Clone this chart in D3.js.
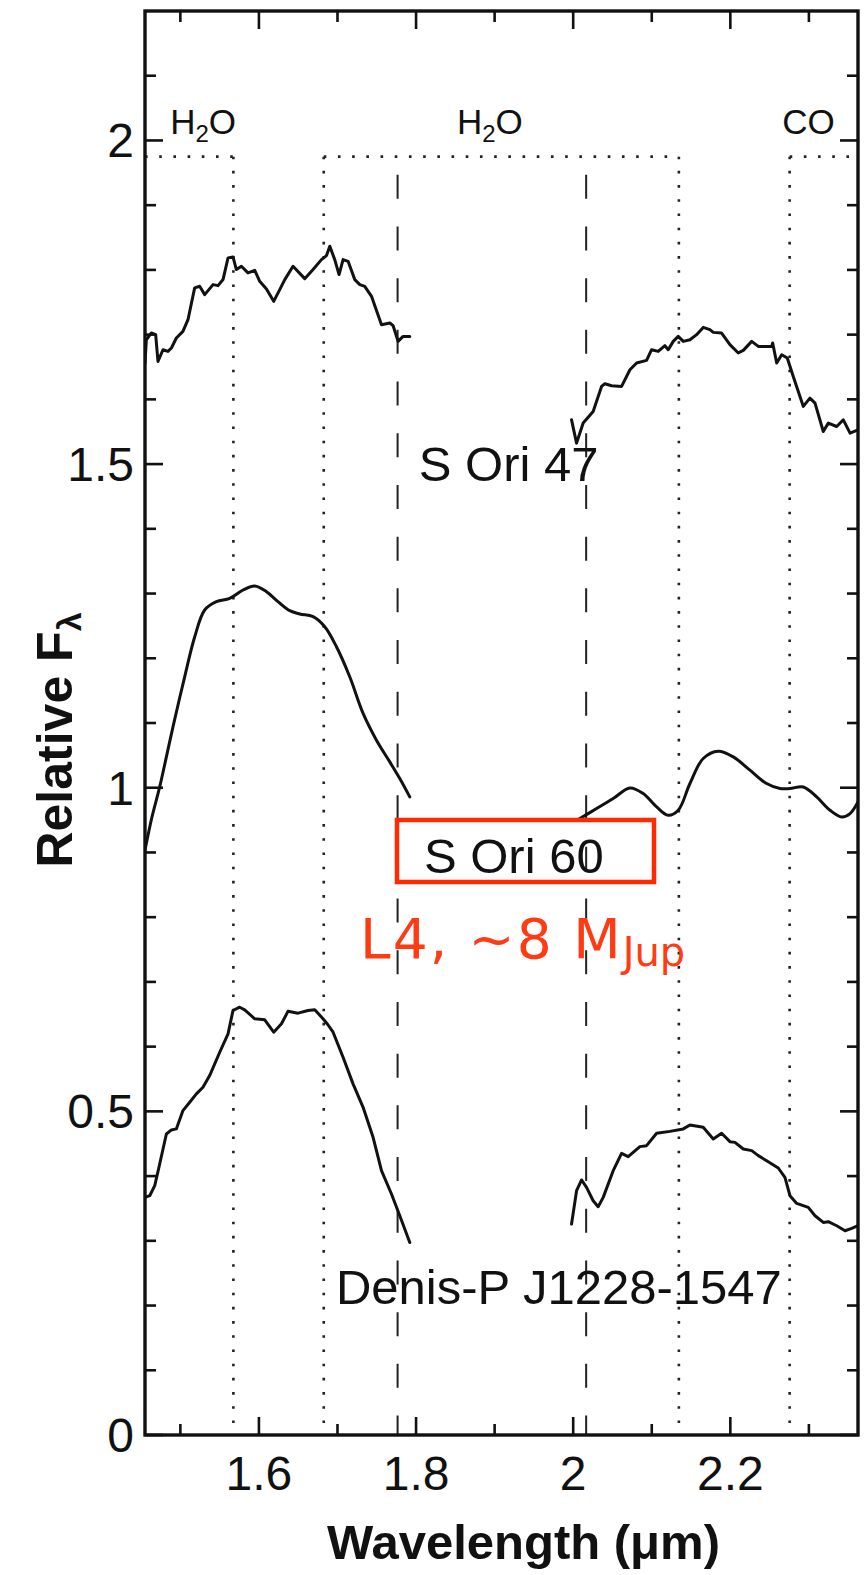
<!DOCTYPE html>
<html>
<head>
<meta charset="utf-8">
<script src="https://cdn.jsdelivr.net/npm/d3@7"></script>
<style>
  html, body { margin: 0; padding: 0; background: #fff; }
  svg { display: block; }
</style>
</head>
<body>
<svg id="chart" width="867" height="1575"></svg>
<script>
// ---- Spectra: [wavelength (µm), relative flux] ----
const sOri47H = [[1.455,1.656],[1.4567,1.692],[1.4631,1.7026],[1.4686,1.700],[1.4715,1.6586],[1.4779,1.6767],[1.4842,1.6741],[1.4886,1.6793],[1.4949,1.6948],[1.5033,1.705],[1.5097,1.7231],[1.5182,1.7722],[1.5246,1.7747],[1.531,1.7618],[1.5416,1.7773],[1.548,1.7757],[1.5543,1.7851],[1.5607,1.8186],[1.567,1.8201],[1.5713,1.8005],[1.5777,1.8056],[1.5861,1.7954],[1.5947,1.7994],[1.601,1.7824],[1.6096,1.7706],[1.6188,1.7514],[1.6265,1.7695],[1.6329,1.785],[1.6434,1.8056],[1.6583,1.7865],[1.6689,1.8005],[1.6796,1.8159],[1.686,1.8221],[1.6902,1.8365],[1.6965,1.8159],[1.702,1.7928],[1.7071,1.8159],[1.7135,1.8133],[1.722,1.785],[1.7284,1.7772],[1.7347,1.7746],[1.7433,1.7592],[1.756,1.7154],[1.7666,1.718],[1.7708,1.7138],[1.7751,1.6973],[1.7771,1.6896],[1.7835,1.6973],[1.792,1.6973]];
const sOri47K = [[1.9979,1.5684],[2.0043,1.5324],[2.0127,1.5634],[2.0254,1.5813],[2.0361,1.62],[2.0403,1.6241],[2.0489,1.621],[2.0616,1.62],[2.0722,1.6458],[2.0807,1.6562],[2.0934,1.6602],[2.0998,1.6767],[2.1082,1.6741],[2.1167,1.6829],[2.121,1.6767],[2.1273,1.6896],[2.1337,1.6973],[2.1401,1.6896],[2.1486,1.6922],[2.1571,1.70],[2.1655,1.7112],[2.174,1.7077],[2.1783,1.7035],[2.1889,1.7025],[2.1995,1.6845],[2.2101,1.6717],[2.2165,1.6757],[2.2272,1.6896],[2.2356,1.6818],[2.2526,1.6818],[2.2539,1.6871],[2.259,1.6562],[2.2654,1.669],[2.2725,1.6639],[2.2801,1.6354],[2.2929,1.5891],[2.3013,1.602],[2.3078,1.5943],[2.3183,1.5504],[2.3247,1.5633],[2.3354,1.5581],[2.3438,1.5684],[2.3524,1.5478],[2.3625,1.553]];
const sOri60H = [[1.455,0.9033],[1.4635,0.9528],[1.4737,1.0012],[1.4822,1.0476],[1.4906,1.094],[1.5055,1.1714],[1.5183,1.2333],[1.531,1.2746],[1.5459,1.2874],[1.5628,1.2926],[1.5798,1.3055],[1.5947,1.3117],[1.6096,1.3029],[1.6243,1.2874],[1.6392,1.2735],[1.652,1.2684],[1.6689,1.2642],[1.6838,1.2487],[1.6987,1.2178],[1.7156,1.1714],[1.7326,1.1148],[1.7496,1.0735],[1.7666,1.0399],[1.7793,1.0142],[1.792,0.9858]];
const sOri60K = [[2.0063,0.9508],[2.0298,0.9678],[2.0509,0.9833],[2.0722,0.9997],[2.0891,0.991],[2.1062,0.9703],[2.1209,0.9575],[2.1337,0.9652],[2.1486,1.0065],[2.1655,1.0452],[2.1846,1.0565],[2.2037,1.0476],[2.225,1.0271],[2.2462,1.0065],[2.2632,0.9988],[2.2759,0.9988],[2.2929,1.0012],[2.3099,0.9858],[2.3269,0.9652],[2.3418,0.9548],[2.3524,0.9601],[2.3625,0.978]];
const denisH = [[1.455,0.3671],[1.461,0.3697],[1.4674,0.3852],[1.4737,0.4187],[1.4822,0.4651],[1.4886,0.4713],[1.4949,0.4729],[1.5033,0.5012],[1.5119,0.514],[1.5204,0.527],[1.5288,0.5372],[1.5373,0.5553],[1.5501,0.5913],[1.5607,0.6198],[1.567,0.6558],[1.5755,0.6609],[1.5819,0.6569],[1.5947,0.643],[1.6074,0.6415],[1.6188,0.6223],[1.6287,0.6353],[1.6371,0.6548],[1.6498,0.6517],[1.6625,0.6558],[1.6711,0.6569],[1.6816,0.643],[1.6876,0.6342],[1.6944,0.6223],[1.7071,0.5836],[1.7198,0.5425],[1.7326,0.5063],[1.7453,0.4599],[1.756,0.4084],[1.7687,0.3723],[1.7793,0.3387],[1.792,0.2974]];
const denisK = [[1.9979,0.3259],[2.0043,0.3774],[2.0107,0.394],[2.017,0.3825],[2.0254,0.3619],[2.0318,0.3527],[2.0382,0.3671],[2.0509,0.4084],[2.0616,0.4351],[2.07,0.43],[2.0849,0.4455],[2.0934,0.447],[2.1062,0.4661],[2.1231,0.4691],[2.1401,0.4729],[2.1486,0.479],[2.1655,0.4753],[2.1783,0.4574],[2.1889,0.4661],[2.1995,0.4532],[2.2059,0.4521],[2.2165,0.4419],[2.2272,0.4393],[2.2356,0.4316],[2.2462,0.4238],[2.261,0.4125],[2.2695,0.398],[2.2759,0.3697],[2.2845,0.3578],[2.2992,0.3516],[2.3078,0.3387],[2.3183,0.3284],[2.3247,0.3295],[2.3354,0.3233],[2.346,0.3156],[2.3545,0.3192],[2.3625,0.3233]];

// ---- Axis settings ----
const xDomain = [1.455, 2.3625];
const yDomain = [0, 2.2];
const xMajorTicks = [1.6, 1.8, 2.0, 2.2];
const xMinorTicks = [1.5, 1.7, 1.9, 2.1, 2.3];
const yMajorTicks = [0, 0.5, 1, 1.5, 2];
const yMinorTicks = [0.1,0.2,0.3,0.4,0.6,0.7,0.8,0.9,1.1,1.2,1.3,1.4,1.6,1.7,1.8,1.9,2.1];

// ---- Absorption band markers ----
const bandLevel = 1.975;
const bandSegments = [[1.455, 1.5675], [1.6825, 2.1345], [2.2755, 2.3625]];
const bandEdges = [1.5675, 1.6825, 2.1345, 2.2755];
const bandNames = [
  { x: 1.487, main: "H", sub: "2", tail: "O" },
  { x: 1.852, main: "H", sub: "2", tail: "O" },
  { x: 2.266, main: "CO", sub: "", tail: "" }
];
const gapEdges = [1.7765, 2.0165];
const gapTop = 1.947;

// ---- Object labels ----
const objectLabels = [
  { name: "S Ori 47", x: 1.8035, y: 1.474 },
  { name: "S Ori 60", x: 1.81, y: 0.868 },
  { name: "Denis-P J1228-1547", x: 1.698, y: 0.203 }
];

const plotLeft = 145, plotRight = 858, plotTop = 11, plotBottom = 1435;

const svg = d3.select("#chart");
const x = d3.scaleLinear().domain(xDomain).range([plotLeft, plotRight]);
const y = d3.scaleLinear().domain(yDomain).range([plotBottom, plotTop]);

svg.append("defs").append("clipPath").attr("id", "plotClip")
  .append("rect").attr("x", plotLeft).attr("y", plotTop)
  .attr("width", plotRight - plotLeft).attr("height", plotBottom - plotTop);

const font = "'Liberation Sans', Arial, Helvetica, sans-serif";

// band markers (dotted)
const bands = svg.append("g").attr("clip-path", "url(#plotClip)")
  .attr("stroke", "#222").attr("stroke-width", 2.6)
  .attr("stroke-dasharray", "2.6 11.6").attr("fill", "none");
bands.selectAll("line.h").data(bandSegments).join("line")
  .attr("class", "h")
  .attr("x1", d => x(d[0])).attr("x2", d => x(d[1]))
  .attr("y1", y(bandLevel)).attr("y2", y(bandLevel));
bands.selectAll("line.v").data(bandEdges).join("line")
  .attr("class", "v")
  .attr("x1", d => x(d)).attr("x2", d => x(d))
  .attr("y1", y(bandLevel)).attr("y2", y(0));

// gap edges (dashed)
svg.append("g").attr("clip-path", "url(#plotClip)")
  .selectAll("line").data(gapEdges).join("line")
  .attr("x1", d => x(d)).attr("x2", d => x(d))
  .attr("y1", y(gapTop)).attr("y2", y(0))
  .attr("stroke", "#222").attr("stroke-width", 2)
  .attr("stroke-dasharray", "24 27.7");

// band names
const bandText = svg.append("g").attr("font-family", font).attr("fill", "#111");
bandNames.forEach(b => {
  const t = bandText.append("text")
    .attr("x", x(b.x)).attr("y", 134)
    .attr("font-size", 35);
  t.append("tspan").text(b.main);
  if (b.sub) {
    t.append("tspan").attr("font-size", 24).attr("dy", 8).text(b.sub);
    t.append("tspan").attr("dy", -8).text(b.tail);
  }
});

// spectra
const line = d3.line().x(d => x(d[0])).y(d => y(d[1]));
const smooth = d3.line().x(d => x(d[0])).y(d => y(d[1])).curve(d3.curveCatmullRom.alpha(0.5));
const spectra = svg.append("g").attr("clip-path", "url(#plotClip)")
  .attr("fill", "none").attr("stroke", "#111")
  .attr("stroke-width", 3).attr("stroke-linejoin", "round").attr("stroke-linecap", "round");
[sOri47H, sOri47K, denisH, denisK].forEach(s => spectra.append("path").attr("d", line(s)));
[sOri60H, sOri60K].forEach(s => spectra.append("path").attr("d", smooth(s)));

// object names
svg.append("g").attr("font-family", font).attr("font-size", 49).attr("fill", "#111")
  .selectAll("text").data(objectLabels).join("text")
  .attr("x", d => x(d.x)).attr("y", d => y(d.y)).text(d => d.name);

// highlight box and annotation
svg.append("rect")
  .attr("x", 397).attr("y", 820).attr("width", 257).attr("height", 62)
  .attr("fill", "none").attr("stroke", "#ff2a00").attr("stroke-width", 4.5);
const note = svg.append("text")
  .attr("x", 360).attr("y", 958)
  .attr("font-family", "'DejaVu Sans', sans-serif")
  .attr("fill", "#ff3b14");
note.append("tspan").attr("font-size", 55).attr("letter-spacing", 2).text("L4, ~8 M");
note.append("tspan").attr("font-size", 40).attr("dy", 8).text("Jup");

// frame
svg.append("rect")
  .attr("x", plotLeft).attr("y", plotTop).attr("width", plotRight - plotLeft).attr("height", plotBottom - plotTop)
  .attr("fill", "none").attr("stroke", "#111").attr("stroke-width", 3.4);

// ticks, mirrored on all four sides, pointing inward
const ticks = svg.append("g").attr("stroke", "#111").attr("stroke-width", 2.6);
const majL = 18, minL = 11;
function xTicks(vals, len) {
  vals.forEach(v => {
    ticks.append("line").attr("x1", x(v)).attr("x2", x(v)).attr("y1", plotBottom).attr("y2", plotBottom - len);
    ticks.append("line").attr("x1", x(v)).attr("x2", x(v)).attr("y1", plotTop).attr("y2", plotTop + len);
  });
}
function yTicks(vals, len) {
  vals.forEach(v => {
    ticks.append("line").attr("x1", plotLeft).attr("x2", plotLeft + len).attr("y1", y(v)).attr("y2", y(v));
    ticks.append("line").attr("x1", plotRight).attr("x2", plotRight - len).attr("y1", y(v)).attr("y2", y(v));
  });
}
xTicks(xMajorTicks, majL); xTicks(xMinorTicks, minL);
yTicks(yMajorTicks, majL); yTicks(yMinorTicks, minL);

// tick labels
const fmt = d => d3.format("~g")(d);
svg.append("g").attr("font-family", font).attr("font-size", 48).attr("fill", "#111")
  .attr("text-anchor", "middle")
  .selectAll("text").data(xMajorTicks).join("text")
  .attr("x", d => x(d)).attr("y", 1490).text(fmt);
svg.append("g").attr("font-family", font).attr("font-size", 48).attr("fill", "#111")
  .attr("text-anchor", "end")
  .selectAll("text").data(yMajorTicks).join("text")
  .attr("x", 134).attr("y", d => y(d) + 17).text(fmt);

// axis titles
svg.append("text")
  .attr("x", (plotLeft + plotRight) / 2 + 22).attr("y", 1559)
  .attr("text-anchor", "middle")
  .attr("font-family", font).attr("font-weight", "bold").attr("font-size", 49)
  .attr("fill", "#111").text("Wavelength (\u03bcm)");
const yt = svg.append("text")
  .attr("transform", "translate(72,740) rotate(-90)")
  .attr("text-anchor", "middle")
  .attr("font-family", font).attr("font-weight", "bold").attr("font-size", 50)
  .attr("fill", "#111");
yt.append("tspan").text("Relative F");
yt.append("tspan").attr("font-size", 34).attr("dy", 9).text("\u03bb");
</script>
</body>
</html>
